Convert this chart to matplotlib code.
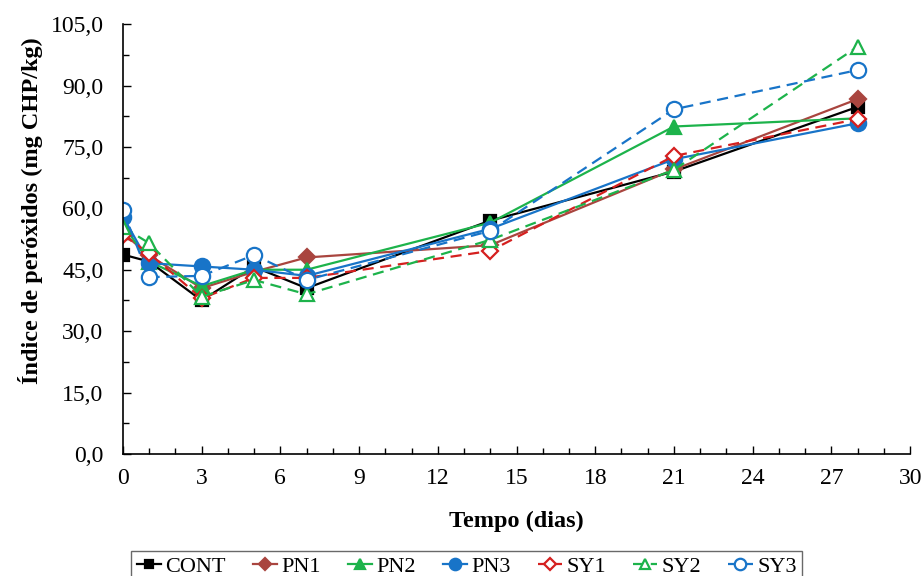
import numpy as np
import matplotlib; matplotlib.use('Agg')
import matplotlib.pyplot as plt
from matplotlib.ticker import MultipleLocator, FuncFormatter

plt.rcParams['font.family'] = ['Liberation Serif', 'DejaVu Serif']

# ── Data ──────────────────────────────────────────────────────────────────────
dias = [0, 1, 3, 5, 7, 14, 21, 28]

cont = [48.7, 47.0, 37.5, 45.7, 40.5, 57.0, 69.0, 84.8]
pn1  = [54.0, 48.5, 40.5, 44.5, 48.0, 51.0, 69.5, 86.7]
pn2  = [56.0, 47.0, 41.0, 45.0, 45.0, 56.5, 80.0, 82.0]
pn3  = [58.0, 46.6, 45.8, 45.0, 43.5, 55.0, 72.0, 80.8]
sy1  = [53.5, 49.0, 38.0, 43.0, 43.0, 49.6, 72.8, 81.8]
sy2  = [55.4, 51.5, 38.4, 42.5, 39.0, 52.3, 69.4, 99.5]
sy3  = [59.5, 43.2, 43.5, 48.6, 42.5, 54.5, 84.2, 93.8]

BLACK = '#000000'
BROWN = '#A9453F'
GREEN = '#1DB34B'
BLUE  = '#1874C8'
RED   = '#D5201F'

series = [
    ('CONT', cont, BLACK, '-',  's', True),
    ('PN1',  pn1,  BROWN, '-',  'D', True),
    ('PN2',  pn2,  GREEN, '-',  '^', True),
    ('PN3',  pn3,  BLUE,  '-',  'o', True),
    ('SY1',  sy1,  RED,   '--', 'D', False),
    ('SY2',  sy2,  GREEN, '--', '^', False),
    ('SY3',  sy3,  BLUE,  '--', 'o', False),
]
SIZES = {'o': 11, '^': 10, 's': 8, 'D': 8}

fig = plt.figure(figsize=(9.24, 5.76), dpi=100)
ax = fig.add_axes([0.133, 0.212, 0.852, 0.746])

for name, vals, col, ls, mk, filled in series:
    ax.plot(dias, vals, color=col, ls=ls, lw=1.6, marker=mk, ms=SIZES[mk],
            mfc=col if filled else 'white', mec=col, mew=1.6, label=name,
            dashes=(5, 3) if ls == '--' else (None, None))

ax.set_xlim(0, 30)
ax.set_ylim(0, 105)
ax.xaxis.set_major_locator(MultipleLocator(3))
ax.xaxis.set_minor_locator(MultipleLocator(1))
ax.yaxis.set_major_locator(MultipleLocator(15))
ax.yaxis.set_minor_locator(MultipleLocator(7.5))
ax.yaxis.set_major_formatter(FuncFormatter(lambda v, p: f'{v:.1f}'.replace('.', ',')))
ax.tick_params(which='both', direction='in', labelsize=17, width=1)
ax.tick_params(which='major', length=6)
ax.tick_params(which='minor', length=4)
ax.tick_params(axis='x', pad=10)
ax.tick_params(axis='y', pad=14)
for s in ['top', 'right']:
    ax.spines[s].set_visible(False)
for s in ['left', 'bottom']:
    ax.spines[s].set_linewidth(1.2)

ax.set_xlabel('Tempo (dias)', fontsize=17.5, fontweight='bold', labelpad=16)
ax.set_ylabel('Índice de peróxidos (mg CHP/kg)', fontsize=17.5, fontweight='bold')
ax.yaxis.set_label_coords(-0.102, 0.565)

leg = fig.legend(loc='center', bbox_to_anchor=(0.505, 0.016), ncol=7, fontsize=16,
                 frameon=True, fancybox=False, edgecolor='#444444', handlelength=1.1,
                 handletextpad=0.2, columnspacing=1.2, borderpad=0.25, markerscale=0.75)
leg.get_frame().set_linewidth(1.0)

fig.savefig('out.png', dpi=100)
